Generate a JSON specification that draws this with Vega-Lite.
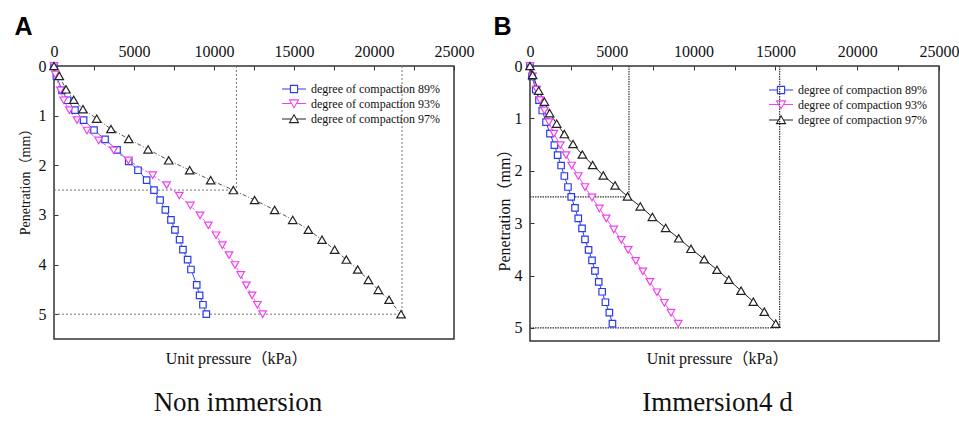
{
  "$schema": "https://vega.github.io/schema/vega-lite/v6.json",
  "background": "white",
  "padding": {"left": 13, "top": 13, "right": 0, "bottom": 0},
  "bounds": "flush",
  "spacing": 76,
  "datasets": {
    "A": [
      {"s": "degree of compaction 89%", "p": 0, "d": 0},
      {"s": "degree of compaction 89%", "p": 150, "d": 0.2},
      {"s": "degree of compaction 89%", "p": 500, "d": 0.49},
      {"s": "degree of compaction 89%", "p": 850, "d": 0.69},
      {"s": "degree of compaction 89%", "p": 1310, "d": 0.89},
      {"s": "degree of compaction 89%", "p": 1850, "d": 1.09},
      {"s": "degree of compaction 89%", "p": 2500, "d": 1.29},
      {"s": "degree of compaction 89%", "p": 3190, "d": 1.48},
      {"s": "degree of compaction 89%", "p": 3940, "d": 1.69},
      {"s": "degree of compaction 89%", "p": 4670, "d": 1.92},
      {"s": "degree of compaction 89%", "p": 5250, "d": 2.1},
      {"s": "degree of compaction 89%", "p": 5790, "d": 2.3},
      {"s": "degree of compaction 89%", "p": 6250, "d": 2.5},
      {"s": "degree of compaction 89%", "p": 6630, "d": 2.7},
      {"s": "degree of compaction 89%", "p": 6960, "d": 2.9},
      {"s": "degree of compaction 89%", "p": 7310, "d": 3.1},
      {"s": "degree of compaction 89%", "p": 7560, "d": 3.3},
      {"s": "degree of compaction 89%", "p": 7850, "d": 3.5},
      {"s": "degree of compaction 89%", "p": 8060, "d": 3.7},
      {"s": "degree of compaction 89%", "p": 8350, "d": 3.9},
      {"s": "degree of compaction 89%", "p": 8560, "d": 4.1},
      {"s": "degree of compaction 89%", "p": 8920, "d": 4.41},
      {"s": "degree of compaction 89%", "p": 9100, "d": 4.62},
      {"s": "degree of compaction 89%", "p": 9310, "d": 4.81},
      {"s": "degree of compaction 89%", "p": 9520, "d": 5.0},
      {"s": "degree of compaction 93%", "p": 0, "d": 0},
      {"s": "degree of compaction 93%", "p": 80, "d": 0.17},
      {"s": "degree of compaction 93%", "p": 400, "d": 0.49},
      {"s": "degree of compaction 93%", "p": 600, "d": 0.69},
      {"s": "degree of compaction 93%", "p": 960, "d": 0.89},
      {"s": "degree of compaction 93%", "p": 1440, "d": 1.09},
      {"s": "degree of compaction 93%", "p": 2060, "d": 1.3},
      {"s": "degree of compaction 93%", "p": 2790, "d": 1.5},
      {"s": "degree of compaction 93%", "p": 3730, "d": 1.7},
      {"s": "degree of compaction 93%", "p": 4650, "d": 1.9},
      {"s": "degree of compaction 93%", "p": 6170, "d": 2.2},
      {"s": "degree of compaction 93%", "p": 7040, "d": 2.4},
      {"s": "degree of compaction 93%", "p": 7830, "d": 2.61},
      {"s": "degree of compaction 93%", "p": 8520, "d": 2.81},
      {"s": "degree of compaction 93%", "p": 9130, "d": 3.01},
      {"s": "degree of compaction 93%", "p": 9650, "d": 3.21},
      {"s": "degree of compaction 93%", "p": 10130, "d": 3.41},
      {"s": "degree of compaction 93%", "p": 10520, "d": 3.61},
      {"s": "degree of compaction 93%", "p": 10940, "d": 3.81},
      {"s": "degree of compaction 93%", "p": 11310, "d": 4.01},
      {"s": "degree of compaction 93%", "p": 11670, "d": 4.21},
      {"s": "degree of compaction 93%", "p": 12020, "d": 4.42},
      {"s": "degree of compaction 93%", "p": 12380, "d": 4.62},
      {"s": "degree of compaction 93%", "p": 12710, "d": 4.81},
      {"s": "degree of compaction 93%", "p": 13040, "d": 5.0},
      {"s": "degree of compaction 97%", "p": 0, "d": 0},
      {"s": "degree of compaction 97%", "p": 330, "d": 0.2},
      {"s": "degree of compaction 97%", "p": 750, "d": 0.47},
      {"s": "degree of compaction 97%", "p": 1230, "d": 0.68},
      {"s": "degree of compaction 97%", "p": 1810, "d": 0.87},
      {"s": "degree of compaction 97%", "p": 2670, "d": 1.06},
      {"s": "degree of compaction 97%", "p": 3560, "d": 1.27},
      {"s": "degree of compaction 97%", "p": 4670, "d": 1.47},
      {"s": "degree of compaction 97%", "p": 5880, "d": 1.68},
      {"s": "degree of compaction 97%", "p": 7170, "d": 1.9},
      {"s": "degree of compaction 97%", "p": 8480, "d": 2.1},
      {"s": "degree of compaction 97%", "p": 9790, "d": 2.3},
      {"s": "degree of compaction 97%", "p": 11210, "d": 2.5},
      {"s": "degree of compaction 97%", "p": 12540, "d": 2.7},
      {"s": "degree of compaction 97%", "p": 13790, "d": 2.9},
      {"s": "degree of compaction 97%", "p": 14920, "d": 3.1},
      {"s": "degree of compaction 97%", "p": 15900, "d": 3.3},
      {"s": "degree of compaction 97%", "p": 16750, "d": 3.5},
      {"s": "degree of compaction 97%", "p": 17540, "d": 3.7},
      {"s": "degree of compaction 97%", "p": 18270, "d": 3.9},
      {"s": "degree of compaction 97%", "p": 18980, "d": 4.1},
      {"s": "degree of compaction 97%", "p": 19650, "d": 4.31},
      {"s": "degree of compaction 97%", "p": 20270, "d": 4.51},
      {"s": "degree of compaction 97%", "p": 20940, "d": 4.71},
      {"s": "degree of compaction 97%", "p": 21690, "d": 5.0}
    ],
    "B": [
      {"s": "degree of compaction 89%", "p": 0, "d": 0},
      {"s": "degree of compaction 89%", "p": 120, "d": 0.2},
      {"s": "degree of compaction 89%", "p": 350, "d": 0.45},
      {"s": "degree of compaction 89%", "p": 550, "d": 0.65},
      {"s": "degree of compaction 89%", "p": 750, "d": 0.85},
      {"s": "degree of compaction 89%", "p": 980, "d": 1.07},
      {"s": "degree of compaction 89%", "p": 1220, "d": 1.29},
      {"s": "degree of compaction 89%", "p": 1490, "d": 1.51},
      {"s": "degree of compaction 89%", "p": 1690, "d": 1.7},
      {"s": "degree of compaction 89%", "p": 1900, "d": 1.9},
      {"s": "degree of compaction 89%", "p": 2100, "d": 2.1},
      {"s": "degree of compaction 89%", "p": 2320, "d": 2.31},
      {"s": "degree of compaction 89%", "p": 2520, "d": 2.5},
      {"s": "degree of compaction 89%", "p": 2750, "d": 2.71},
      {"s": "degree of compaction 89%", "p": 2950, "d": 2.91},
      {"s": "degree of compaction 89%", "p": 3180, "d": 3.1},
      {"s": "degree of compaction 89%", "p": 3360, "d": 3.31},
      {"s": "degree of compaction 89%", "p": 3580, "d": 3.51},
      {"s": "degree of compaction 89%", "p": 3790, "d": 3.71},
      {"s": "degree of compaction 89%", "p": 3970, "d": 3.91},
      {"s": "degree of compaction 89%", "p": 4200, "d": 4.12},
      {"s": "degree of compaction 89%", "p": 4410, "d": 4.31},
      {"s": "degree of compaction 89%", "p": 4610, "d": 4.51},
      {"s": "degree of compaction 89%", "p": 4850, "d": 4.71},
      {"s": "degree of compaction 89%", "p": 5040, "d": 4.92},
      {"s": "degree of compaction 93%", "p": 0, "d": 0},
      {"s": "degree of compaction 93%", "p": 150, "d": 0.2},
      {"s": "degree of compaction 93%", "p": 410, "d": 0.45},
      {"s": "degree of compaction 93%", "p": 610, "d": 0.65},
      {"s": "degree of compaction 93%", "p": 880, "d": 0.85},
      {"s": "degree of compaction 93%", "p": 1160, "d": 1.07},
      {"s": "degree of compaction 93%", "p": 1460, "d": 1.29},
      {"s": "degree of compaction 93%", "p": 1850, "d": 1.51},
      {"s": "degree of compaction 93%", "p": 2200, "d": 1.7},
      {"s": "degree of compaction 93%", "p": 2550, "d": 1.9},
      {"s": "degree of compaction 93%", "p": 2950, "d": 2.1},
      {"s": "degree of compaction 93%", "p": 3360, "d": 2.31},
      {"s": "degree of compaction 93%", "p": 3790, "d": 2.51},
      {"s": "degree of compaction 93%", "p": 4240, "d": 2.72},
      {"s": "degree of compaction 93%", "p": 4660, "d": 2.91},
      {"s": "degree of compaction 93%", "p": 5120, "d": 3.12},
      {"s": "degree of compaction 93%", "p": 5580, "d": 3.32},
      {"s": "degree of compaction 93%", "p": 6000, "d": 3.51},
      {"s": "degree of compaction 93%", "p": 6460, "d": 3.72},
      {"s": "degree of compaction 93%", "p": 6900, "d": 3.92},
      {"s": "degree of compaction 93%", "p": 7330, "d": 4.12},
      {"s": "degree of compaction 93%", "p": 7760, "d": 4.32},
      {"s": "degree of compaction 93%", "p": 8210, "d": 4.52},
      {"s": "degree of compaction 93%", "p": 8620, "d": 4.71},
      {"s": "degree of compaction 93%", "p": 9060, "d": 4.92},
      {"s": "degree of compaction 97%", "p": 0, "d": 0},
      {"s": "degree of compaction 97%", "p": 160, "d": 0.17},
      {"s": "degree of compaction 97%", "p": 530, "d": 0.47},
      {"s": "degree of compaction 97%", "p": 880, "d": 0.68},
      {"s": "degree of compaction 97%", "p": 1200, "d": 0.9},
      {"s": "degree of compaction 97%", "p": 1630, "d": 1.1},
      {"s": "degree of compaction 97%", "p": 2100, "d": 1.3},
      {"s": "degree of compaction 97%", "p": 2630, "d": 1.49},
      {"s": "degree of compaction 97%", "p": 3200, "d": 1.69},
      {"s": "degree of compaction 97%", "p": 3830, "d": 1.89},
      {"s": "degree of compaction 97%", "p": 4480, "d": 2.09},
      {"s": "degree of compaction 97%", "p": 5200, "d": 2.28},
      {"s": "degree of compaction 97%", "p": 5960, "d": 2.49},
      {"s": "degree of compaction 97%", "p": 6740, "d": 2.68},
      {"s": "degree of compaction 97%", "p": 7480, "d": 2.88},
      {"s": "degree of compaction 97%", "p": 8290, "d": 3.09},
      {"s": "degree of compaction 97%", "p": 9090, "d": 3.29},
      {"s": "degree of compaction 97%", "p": 9840, "d": 3.49},
      {"s": "degree of compaction 97%", "p": 10650, "d": 3.69},
      {"s": "degree of compaction 97%", "p": 11430, "d": 3.89},
      {"s": "degree of compaction 97%", "p": 12150, "d": 4.08},
      {"s": "degree of compaction 97%", "p": 12900, "d": 4.29},
      {"s": "degree of compaction 97%", "p": 13650, "d": 4.5},
      {"s": "degree of compaction 97%", "p": 14320, "d": 4.69},
      {"s": "degree of compaction 97%", "p": 15020, "d": 4.92}
    ],
    "refA": [
      {"x1": 0, "x2": 11400, "y1": 2.5, "y2": 2.5},
      {"x1": 11400, "x2": 11400, "y1": 0, "y2": 2.5},
      {"x1": 0, "x2": 21750, "y1": 5, "y2": 5},
      {"x1": 21750, "x2": 21750, "y1": 0, "y2": 5}
    ],
    "refB": [
      {"x1": 0, "x2": 6050, "y1": 2.5, "y2": 2.5},
      {"x1": 6050, "x2": 6050, "y1": 0, "y2": 2.5},
      {"x1": 0, "x2": 15260, "y1": 5, "y2": 5},
      {"x1": 15260, "x2": 15260, "y1": 0, "y2": 5}
    ]
  },
  "hconcat": [
    {
      "width": 400,
      "height": 273,
      "title": {"text": "Non immersion", "orient": "bottom", "anchor": "middle", "dx": -16, "offset": 24, "fontSize": 27, "font": "Liberation Serif", "fontWeight": "normal", "color": "#111"},
      "resolve": {"scale": {"color": "independent", "shape": "independent"}},
      "layer": [
        {
          "data": {"name": "refA"},
          "mark": {"type": "rule", "strokeDash": [2, 2], "color": "#777", "strokeWidth": 1},
          "encoding": {
            "x": {"field": "x1", "type": "quantitative", "scale": {"domain": [0, 25000], "nice": false, "zero": false},
              "axis": {"orient": "bottom", "labels": false, "ticks": false, "domain": false, "grid": false, "title": "Unit pressure（kPa）", "titleX": 182, "titleY": 24, "titleAlign": "center", "titleBaseline": "alphabetic", "titleFont": "Liberation Serif, Noto Sans CJK SC", "titleFontSize": 16, "titleFontWeight": "normal", "titleColor": "#111"}},
            "x2": {"field": "x2"},
            "y": {"field": "y1", "type": "quantitative", "scale": {"domain": [0, 5.5], "nice": false, "zero": false, "reverse": true},
              "axis": {"orient": "left", "values": [0, 0.5, 1, 1.5, 2, 2.5, 3, 3.5, 4, 4.5, 5, 5.5], "labelExpr": "datum.value % 1 === 0 ? format(datum.value, 'd') : ''", "labelFlush": false, "labelOverlap": false, "domain": false, "grid": false, "tickSize": -4, "tickColor": "#333", "labelPadding": 12, "labelFont": "Liberation Serif", "labelFontSize": 16, "labelColor": "#111",
                "title": "Penetration（mm）", "titleX": -29, "titleY": 112, "titleAlign": "center", "titleBaseline": "middle", "titleAngle": 270, "titleFont": "Liberation Serif, Noto Sans CJK SC", "titleFontSize": 14, "titleFontWeight": "normal", "titleColor": "#111"}},
            "y2": {"field": "y2"}
          }
        },
        {
          "data": {"name": "A"},
          "mark": {"type": "line", "strokeWidth": 1},
          "encoding": {
            "x": {"field": "p", "type": "quantitative",
              "axis": {"orient": "top", "values": [0, 2500, 5000, 7500, 10000, 12500, 15000, 17500, 20000, 22500, 25000], "format": "d", "labelExpr": "datum.value % 5000 === 0 ? datum.label : ''", "labelFlush": false, "labelOverlap": false, "domain": false, "grid": false, "tickSize": -4, "tickColor": "#333", "labelPadding": 10.6, "labelFont": "Liberation Serif", "labelFontSize": 16, "labelColor": "#111",
                "title": "A", "titleX": -40, "titleY": -52, "titleAlign": "left", "titleBaseline": "top", "titleAngle": 0, "titleFont": "Liberation Sans", "titleFontSize": 25, "titleFontWeight": "bold", "titleColor": "#000"}},
            "y": {"field": "d", "type": "quantitative"},
            "color": {"field": "s", "type": "nominal", "scale": {"domain": ["degree of compaction 89%", "degree of compaction 93%", "degree of compaction 97%"], "range": ["#2a3af0", "#f050f0", "#555555"]}, "legend": null},
            "strokeDash": {"field": "s", "type": "nominal", "scale": {"domain": ["degree of compaction 89%", "degree of compaction 93%", "degree of compaction 97%"], "range": [[1, 0], [3, 2], [4, 2, 1, 2]]}, "legend": null},
            "order": {"field": "d", "type": "quantitative"}
          }
        },
        {
          "data": {"name": "A"},
          "mark": {"type": "point", "filled": false, "fill": "white", "fillOpacity": 1, "strokeWidth": 1.2, "opacity": 1},
          "encoding": {
            "x": {"field": "p", "type": "quantitative", "axis": null},
            "y": {"field": "d", "type": "quantitative"},
            "color": {"field": "s", "type": "nominal", "scale": {"domain": ["degree of compaction 89%", "degree of compaction 93%", "degree of compaction 97%"], "range": ["#2a3af0", "#f040f0", "#222222"]}, "legend": null},
            "shape": {"field": "s", "type": "nominal", "scale": {"domain": ["degree of compaction 89%", "degree of compaction 93%", "degree of compaction 97%"], "range": ["square", "triangle-down", "triangle-up"]}, "legend": null},
            "size": {"field": "s", "type": "nominal", "scale": {"domain": ["degree of compaction 89%", "degree of compaction 93%", "degree of compaction 97%"], "range": [42, 72, 72]}, "legend": null}
          }
        },
        {
          "data": {"name": "A"},
          "transform": [{"filter": "false"}],
          "mark": {"type": "point", "filled": false, "size": 144, "strokeWidth": 1.1},
          "encoding": {
            "x": {"field": "p", "type": "quantitative", "axis": null},
            "y": {"field": "d", "type": "quantitative"},
            "color": {"field": "s", "type": "nominal", "scale": {"domain": ["degree of compaction 89%", "degree of compaction 93%", "degree of compaction 97%"], "range": ["#2a3af0", "#f040f0", "#222222"]},
              "legend": {"title": null, "orient": "none", "legendX": 233, "legendY": 16, "symbolSize": 144, "labelFont": "Liberation Serif", "labelFontSize": 12, "labelColor": "#111", "labelOffset": 10, "rowPadding": 1.5, "padding": 0, "symbolStrokeWidth": 1.1, "symbolOpacity": 1, "labelLimit": 300}},
            "shape": {"field": "s", "type": "nominal", "scale": {"domain": ["degree of compaction 89%", "degree of compaction 93%", "degree of compaction 97%"], "range": ["M-2,0H-0.6M0.6,0H2M-0.6,-0.6H0.6V0.6H-0.6Z", "M-2,0H-0.4M0.4,0H2M-0.75,-0.6H0.75L0,0.7Z", "M-2,0H-0.4M0.4,0H2M0,-0.7L0.75,0.6H-0.75Z"]},
              "legend": {"title": null, "orient": "none", "legendX": 233, "legendY": 16, "symbolSize": 144, "labelFont": "Liberation Serif", "labelFontSize": 12, "labelColor": "#111", "labelOffset": 10, "rowPadding": 1.5, "padding": 0, "symbolStrokeWidth": 1.1, "symbolOpacity": 1, "labelLimit": 300}}
          }
        }
      ]
    },
    {
      "width": 409,
      "height": 275,
      "title": {"text": "Immersion4 d", "orient": "bottom", "anchor": "middle", "dx": -17, "offset": 24, "fontSize": 27, "font": "Liberation Serif", "fontWeight": "normal", "color": "#111"},
      "resolve": {"scale": {"color": "independent", "shape": "independent"}},
      "layer": [
        {
          "data": {"name": "refB"},
          "mark": {"type": "rule", "strokeDash": [1.5, 1], "color": "#333", "strokeWidth": 1.2},
          "encoding": {
            "x": {"field": "x1", "type": "quantitative", "scale": {"domain": [0, 25000], "nice": false, "zero": false},
              "axis": {"orient": "bottom", "labels": false, "ticks": false, "domain": false, "grid": false, "title": "Unit pressure（kPa）", "titleX": 187, "titleY": 22, "titleAlign": "center", "titleBaseline": "alphabetic", "titleFont": "Liberation Serif, Noto Sans CJK SC", "titleFontSize": 16, "titleFontWeight": "normal", "titleColor": "#111"}},
            "x2": {"field": "x2"},
            "y": {"field": "y1", "type": "quantitative", "scale": {"domain": [0, 5.25], "nice": false, "zero": false, "reverse": true},
              "axis": {"orient": "left", "values": [0, 0.5, 1, 1.5, 2, 2.5, 3, 3.5, 4, 4.5, 5], "labelExpr": "datum.value % 1 === 0 ? format(datum.value, 'd') : ''", "labelFlush": false, "labelOverlap": false, "domain": false, "grid": false, "tickSize": -4, "tickColor": "#333", "labelPadding": 12, "labelFont": "Liberation Serif", "labelFontSize": 16, "labelColor": "#111",
                "title": "Penetration（mm）", "titleX": -26, "titleY": 140, "titleAlign": "center", "titleBaseline": "middle", "titleAngle": 270, "titleFont": "Liberation Serif, Noto Sans CJK SC", "titleFontSize": 16, "titleFontWeight": "normal", "titleColor": "#111"}},
            "y2": {"field": "y2"}
          }
        },
        {
          "data": {"name": "B"},
          "mark": {"type": "line", "strokeWidth": 1},
          "encoding": {
            "x": {"field": "p", "type": "quantitative",
              "axis": {"orient": "top", "values": [0, 2500, 5000, 7500, 10000, 12500, 15000, 17500, 20000, 22500, 25000], "format": "d", "labelExpr": "datum.value % 5000 === 0 ? datum.label : ''", "labelFlush": false, "labelOverlap": false, "domain": false, "grid": false, "tickSize": -4, "tickColor": "#333", "labelPadding": 10.6, "labelFont": "Liberation Serif", "labelFontSize": 16, "labelColor": "#111",
                "title": "B", "titleX": -37, "titleY": -52, "titleAlign": "left", "titleBaseline": "top", "titleAngle": 0, "titleFont": "Liberation Sans", "titleFontSize": 25, "titleFontWeight": "bold", "titleColor": "#000"}},
            "y": {"field": "d", "type": "quantitative"},
            "color": {"field": "s", "type": "nominal", "scale": {"domain": ["degree of compaction 89%", "degree of compaction 93%", "degree of compaction 97%"], "range": ["#2a3af0", "#f050f0", "#222222"]}, "legend": null},
            "order": {"field": "d", "type": "quantitative"}
          }
        },
        {
          "data": {"name": "B"},
          "mark": {"type": "point", "filled": false, "fill": "white", "fillOpacity": 1, "strokeWidth": 1.2, "opacity": 1},
          "encoding": {
            "x": {"field": "p", "type": "quantitative", "axis": null},
            "y": {"field": "d", "type": "quantitative"},
            "color": {"field": "s", "type": "nominal", "scale": {"domain": ["degree of compaction 89%", "degree of compaction 93%", "degree of compaction 97%"], "range": ["#2a3af0", "#f040f0", "#222222"]}, "legend": null},
            "shape": {"field": "s", "type": "nominal", "scale": {"domain": ["degree of compaction 89%", "degree of compaction 93%", "degree of compaction 97%"], "range": ["square", "triangle-down", "triangle-up"]}, "legend": null},
            "size": {"field": "s", "type": "nominal", "scale": {"domain": ["degree of compaction 89%", "degree of compaction 93%", "degree of compaction 97%"], "range": [42, 72, 72]}, "legend": null}
          }
        },
        {
          "data": {"name": "B"},
          "transform": [{"filter": "false"}],
          "mark": {"type": "point", "filled": false, "size": 144, "strokeWidth": 1.1},
          "encoding": {
            "x": {"field": "p", "type": "quantitative", "axis": null},
            "y": {"field": "d", "type": "quantitative"},
            "color": {"field": "s", "type": "nominal", "scale": {"domain": ["degree of compaction 89%", "degree of compaction 93%", "degree of compaction 97%"], "range": ["#2a3af0", "#f040f0", "#222222"]},
              "legend": {"title": null, "orient": "none", "legendX": 244, "legendY": 17, "symbolSize": 144, "labelFont": "Liberation Serif", "labelFontSize": 12, "labelColor": "#111", "labelOffset": 10, "rowPadding": 1.5, "padding": 0, "symbolStrokeWidth": 1.1, "symbolOpacity": 1, "labelLimit": 300}},
            "shape": {"field": "s", "type": "nominal", "scale": {"domain": ["degree of compaction 89%", "degree of compaction 93%", "degree of compaction 97%"], "range": ["M-2,0H-0.6M0.6,0H2M-0.6,-0.6H0.6V0.6H-0.6Z", "M-2,0H-0.4M0.4,0H2M-0.75,-0.6H0.75L0,0.7Z", "M-2,0H-0.4M0.4,0H2M0,-0.7L0.75,0.6H-0.75Z"]},
              "legend": {"title": null, "orient": "none", "legendX": 244, "legendY": 17, "symbolSize": 144, "labelFont": "Liberation Serif", "labelFontSize": 12, "labelColor": "#111", "labelOffset": 10, "rowPadding": 1.5, "padding": 0, "symbolStrokeWidth": 1.1, "symbolOpacity": 1, "labelLimit": 300}}
          }
        }
      ]
    }
  ],
  "config": {
    "view": {"stroke": "#333", "strokeWidth": 1.5},
    "axis": {"grid": false, "domain": false}
  }
}
